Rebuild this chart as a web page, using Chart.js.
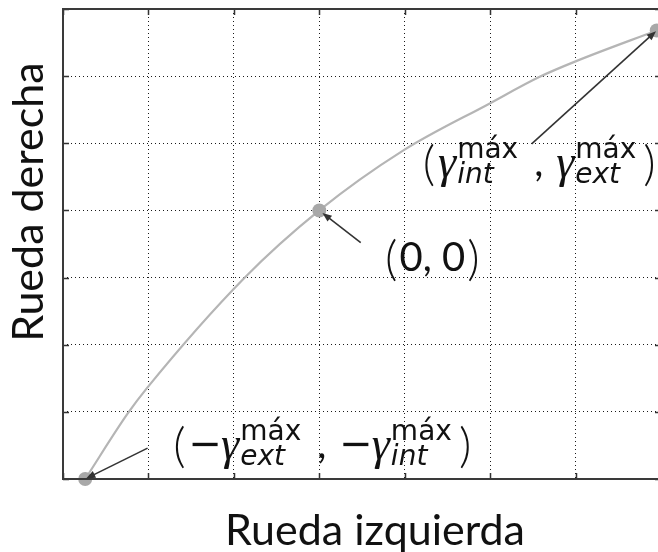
<!DOCTYPE html>
<html>
<head>
<meta charset="utf-8">
<script src="https://cdn.jsdelivr.net/npm/chart.js@4.4.1/dist/chart.umd.min.js"></script>
<style>
  html, body { margin: 0; padding: 0; background: #fff; overflow: hidden; }
  #wrap { width: 672px; height: 552px; }
</style>
</head>
<body>
<div id="wrap"><canvas id="chart" width="672" height="552"></canvas></div>
<script>
// curve between the two extreme states, passing through the rest state
const curveX = [0.26, 0.76, 0.98, 2.12, 3.0, 3.98, 4.99, 5.58, 6.0, 6.95];
const curveY = [0.0, 0.98, 1.35, 2.99, 4.0, 4.89, 5.59, 5.99, 6.22, 6.68];

// marked states: (-ext, -int), (0,0), (int, ext)
const markX = [0.26, 3.0, 6.95];
const markY = [0.0, 4.0, 6.68];

const xTicks = [0, 1, 2, 3, 4, 5, 6, 7];
const yTicks = [0, 1, 2, 3, 4, 5, 6, 7];

const xTitle = "Rueda izquierda";
const yTitle = "Rueda derecha";

// annotation text, where it sits and where its arrow starts
const notes = [
    { parts: [["\u2212", "ext"], ["\u2212", "int"]], at: [1.29, 0.32], from: [0.99, 0.46], mark: 0 },
    { text: "(0, 0)", at: [3.77, 3.10], from: [3.485, 3.52], mark: 1 },
    { parts: [["", "int"], ["", "ext"]], at: [4.21, 4.51], from: [5.486, 4.99], mark: 2 }
];

const FONT = '"Lato", "Open Sans", sans-serif';
const mainFont = `40px ${FONT}`;
const minusFont = `40px "DejaVu Sans", sans-serif`;
const parenFont = `300 48px ${FONT}`;
const gammaFont = `italic 46px "Liberation Serif", serif`;
const supFont = `28px "DejaVu Sans", sans-serif`;
const subFont = `italic 28px "DejaVu Sans", sans-serif`;

/* ---------- helpers ---------- */
function drawArrow(ctx, x1, y1, x2, y2, back) {
    const a = Math.atan2(y2 - y1, x2 - x1);
    x2 -= Math.cos(a) * back;
    y2 -= Math.sin(a) * back;
    ctx.beginPath();
    ctx.moveTo(x1, y1);
    ctx.lineTo(x2 - Math.cos(a) * 6, y2 - Math.sin(a) * 6);
    ctx.stroke();
    ctx.beginPath();
    ctx.moveTo(x2, y2);
    ctx.lineTo(x2 - Math.cos(a - 0.38) * 10, y2 - Math.sin(a - 0.38) * 10);
    ctx.lineTo(x2 - Math.cos(a + 0.38) * 10, y2 - Math.sin(a + 0.38) * 10);
    ctx.closePath();
    ctx.fill();
}

function drawCoord(ctx, x, y, parts) {
    ctx.font = parenFont;
    ctx.fillText("(", x, y + 4);
    x += ctx.measureText("(").width + 3;
    parts.forEach((p, i) => {
        if (i > 0) {
            ctx.font = mainFont;
            ctx.fillText(",", x + 9, y);
            x += 31;
        }
        if (p[0]) {
            ctx.font = minusFont;
            ctx.fillText(p[0], x, y - 1);
            x += ctx.measureText(p[0]).width - 1;
        }
        ctx.font = gammaFont;
        ctx.fillText("\u03b3", x, y + 1);
        x += ctx.measureText("\u03b3").width + 1;
        ctx.font = supFont;
        ctx.fillText("m\u00e1x", x, y - 18);
        const w1 = ctx.measureText("m\u00e1x").width;
        ctx.font = subFont;
        ctx.fillText(p[1], x, y + 7);
        const w2 = ctx.measureText(p[1]).width;
        x += Math.max(w1, w2) + 7;
    });
    ctx.font = parenFont;
    ctx.fillText(")", x, y + 4);
}

/* ---------- plugin: frame, inner ticks, titles, notes ---------- */
const decor = {
    id: "decor",
    afterDatasetsDraw(chart) {
        const { ctx, chartArea: ca, scales: { x, y } } = chart;
        ctx.save();

        // inward tick marks
        ctx.strokeStyle = "#333";
        ctx.lineWidth = 1.5;
        ctx.beginPath();
        xTicks.forEach(v => {
            const px = Math.round(x.getPixelForValue(v)) + 0.5;
            ctx.moveTo(px, ca.bottom); ctx.lineTo(px, ca.bottom - 6);
            ctx.moveTo(px, ca.top); ctx.lineTo(px, ca.top + 6);
        });
        yTicks.forEach(v => {
            const py = Math.round(y.getPixelForValue(v)) + 0.5;
            ctx.moveTo(ca.left, py); ctx.lineTo(ca.left + 6, py);
            ctx.moveTo(ca.right, py); ctx.lineTo(ca.right - 6, py);
        });
        ctx.stroke();

        // frame
        ctx.lineWidth = 2;
        ctx.strokeStyle = "#3a3a3a";
        ctx.strokeRect(ca.left, ca.top, ca.right - ca.left, ca.bottom - ca.top);

        // arrows
        ctx.strokeStyle = "#333";
        ctx.fillStyle = "#333";
        ctx.lineWidth = 1.6;
        notes.forEach(n => {
            const tx = x.getPixelForValue(markX[n.mark]);
            const ty = y.getPixelForValue(markY[n.mark]);
            drawArrow(ctx, x.getPixelForValue(n.from[0]), y.getPixelForValue(n.from[1]), tx, ty, n.mark === 1 ? 4 : 1);
        });

        // notes
        ctx.fillStyle = "#111";
        ctx.textAlign = "left";
        ctx.textBaseline = "alphabetic";
        notes.forEach(n => {
            const px = x.getPixelForValue(n.at[0]);
            const py = y.getPixelForValue(n.at[1]);
            if (n.text) {
                ctx.font = parenFont;
                ctx.fillText("(", px, py + 4);
                let cx = px + ctx.measureText("(").width + 2;
                ctx.font = mainFont;
                const inner = n.text.slice(1, -1);
                ctx.fillText(inner, cx, py);
                cx += ctx.measureText(inner).width + 2;
                ctx.font = parenFont;
                ctx.fillText(")", cx, py + 4);
            } else {
                drawCoord(ctx, px, py, n.parts);
            }
        });

        // axis titles
        ctx.font = `43px ${FONT}`;
        ctx.textAlign = "center";
        ctx.fillText(xTitle, (ca.left + ca.right) / 2 + 13, ca.bottom + 66);
        ctx.translate(ca.left - 20, (ca.top + ca.bottom) / 2 - 42);
        ctx.rotate(-Math.PI / 2);
        ctx.fillText(yTitle, 0, 0);
        ctx.restore();
    }
};

/* ---------- chart ---------- */
const gridOpts = { color: "#1a1a1a", lineWidth: 1, drawTicks: false };
const borderOpts = { display: false, dash: [1, 3] };

new Chart(document.getElementById("chart"), {
    type: "line",
    data: {
        datasets: [
            {
                data: curveX.map((v, i) => ({ x: v, y: curveY[i] })),
                borderColor: "#b5b5b5",
                borderWidth: 2.2,
                pointRadius: 0,
                cubicInterpolationMode: "monotone",
                fill: false,
                clip: false,
                order: 2
            },
            {
                type: "scatter",
                data: markX.map((v, i) => ({ x: v, y: markY[i] })),
                backgroundColor: "#a8a8a8",
                borderWidth: 0,
                pointRadius: 7,
                clip: false,
                order: 1
            }
        ]
    },
    options: {
        responsive: false,
        animation: false,
        devicePixelRatio: 1,
        layout: { padding: { left: 63, right: 11, top: 9, bottom: 73 } },
        plugins: { legend: { display: false }, tooltip: { enabled: false } },
        scales: {
            x: {
                type: "linear", min: 0, max: 7,
                ticks: { display: false, stepSize: 1 },
                grid: gridOpts, border: borderOpts
            },
            y: {
                type: "linear", min: 0, max: 7,
                ticks: { display: false, stepSize: 1 },
                grid: gridOpts, border: borderOpts
            }
        }
    },
    plugins: [decor]
});
</script>
</body>
</html>
